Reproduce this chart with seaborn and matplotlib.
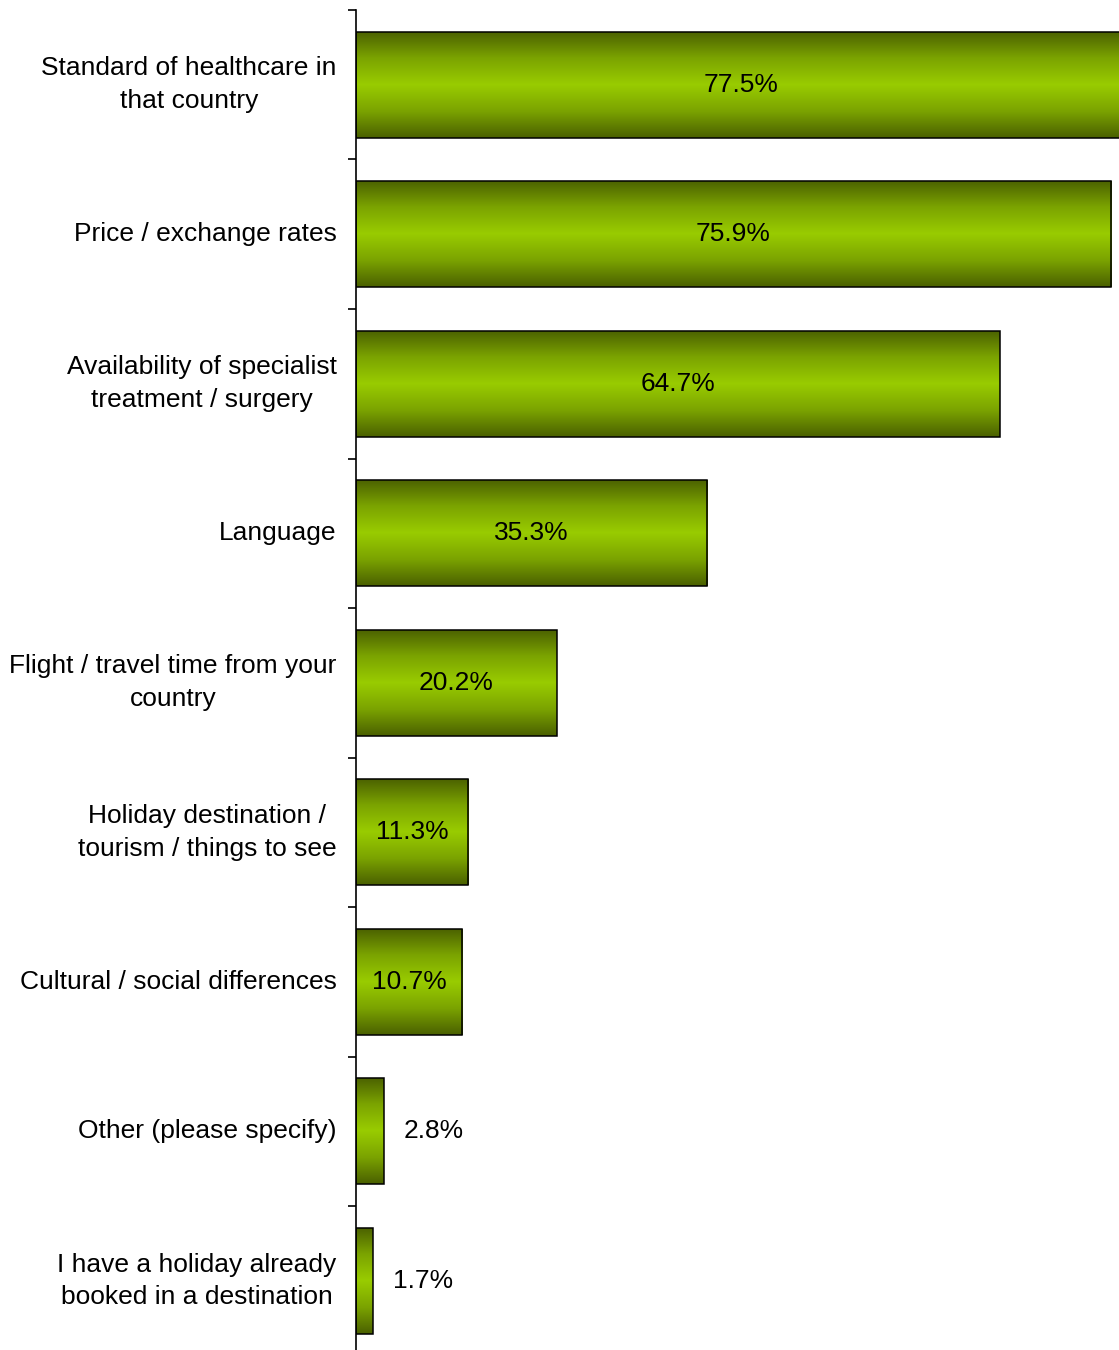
import numpy as np
import pandas as pd
import matplotlib
matplotlib.use('Agg')
import matplotlib.pyplot as plt
import seaborn as sns
from matplotlib.colors import LinearSegmentedColormap

# --- DATA ---
categories = [
    'Standard of healthcare in\nthat country',
    'Price / exchange rates',
    'Availability of specialist\ntreatment / surgery',
    'Language',
    'Flight / travel time from your\ncountry',
    'Holiday destination /\ntourism / things to see',
    'Cultural / social differences',
    'Other (please specify)',
    'I have a holiday already\nbooked in a destination',
]
values = [77.5, 75.9, 64.7, 35.3, 20.2, 11.3, 10.7, 2.8, 1.7]
value_labels = ['77.5%', '75.9%', '64.7%', '35.3%', '20.2%', '11.3%', '10.7%', '2.8%', '1.7%']

df = pd.DataFrame({'category': categories, 'value': values})

# --- STYLE ---
sns.set_style('white')
plt.rcParams['font.family'] = ['Liberation Sans', 'DejaVu Sans']
plt.rcParams['text.color'] = 'black'
plt.rcParams['ytick.color'] = 'black'
plt.rcParams['ytick.labelcolor'] = 'black'

fig = plt.figure(figsize=(11.19, 13.5), dpi=100)
ax = fig.add_axes([0.3181, -0.0041, 0.6819, 0.9967])

sns.barplot(data=df, x='value', y='category', orient='h', ax=ax,
            width=0.71, color='#99cc00', edgecolor='black', linewidth=1.1)

# vertical gradient fill: dark olive at the edges, bright green in the middle
grad_cmap = LinearSegmentedColormap.from_list('olive', ['#4a6000', '#7ba300', '#99cc00', '#7ba300', '#4a6000'])
grad = np.linspace(0, 1, 256).reshape(-1, 1)
for p in ax.patches:
    x0, y0 = p.get_x(), p.get_y()
    w, h = p.get_width(), p.get_height()
    img = ax.imshow(grad, cmap=grad_cmap, aspect='auto', interpolation='bilinear',
                    extent=[x0, x0 + w, y0 + h, y0], zorder=1)
    img.set_clip_path(p)
    p.set_facecolor('none')
    p.set_zorder(2)

ax.set_xlim(0, 76.7)
ax.set_ylim(8.5, -0.5)

# value labels
for i, (v, lab) in enumerate(zip(values, value_labels)):
    if v > 5:
        ax.text(v / 2, i, lab, ha='center', va='center', fontsize=19, zorder=3)
    else:
        ax.text(v + 2.0, i, lab, ha='left', va='center', fontsize=19, zorder=3)

# axes styling
for s in ['top', 'right', 'bottom']:
    ax.spines[s].set_visible(False)
ax.spines['left'].set_linewidth(1.2)
ax.spines['left'].set_color('black')
ax.set_xticks([])
ax.set_xlabel('')
ax.set_ylabel('')
ax.set_yticks(range(len(categories)))
ax.set_yticklabels(categories, fontsize=19, multialignment='center', linespacing=1.45, va='center')
ax.tick_params(axis='y', which='major', left=True, length=0, pad=14)
ax.set_yticks(np.arange(-0.5, len(categories) - 0.5, 1), minor=True)
ax.tick_params(axis='y', which='minor', left=True, length=6, width=1.2, color='black', direction='out')

fig.savefig('out.png', dpi=100)
